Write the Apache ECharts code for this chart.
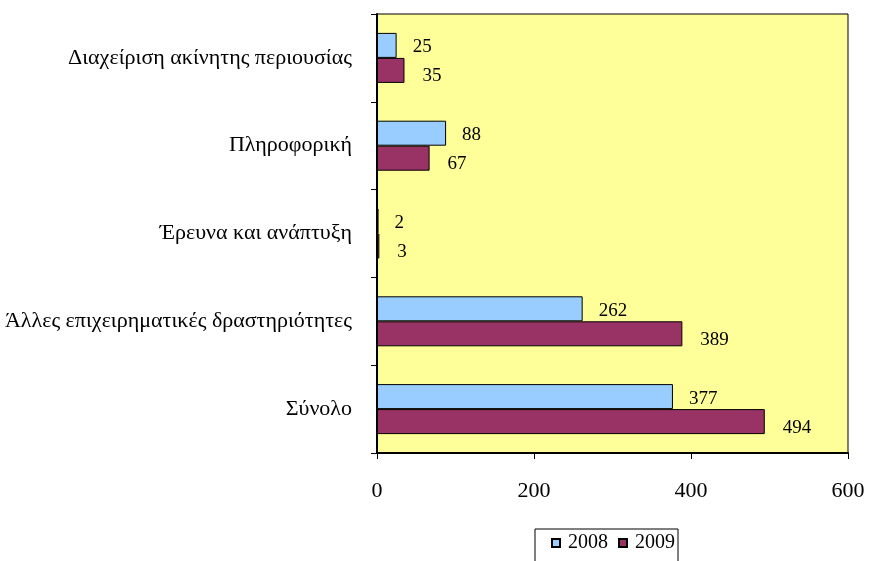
<!DOCTYPE html>
<html>
<head>
<meta charset="utf-8">
<script src="https://cdn.jsdelivr.net/npm/echarts@6/dist/echarts.min.js"></script>
<style>html,body{margin:0;padding:0;background:#fff}#c{width:869px;height:561px}</style>
</head>
<body>
<div id="c"></div>
<script>
// categories top to bottom
const categories = ['Διαχείριση ακίνητης περιουσίας', 'Πληροφορική', 'Έρευνα και ανάπτυξη', 'Άλλες επιχειρηματικές δραστηριότητες', 'Σύνολο'];
const values2008 = [25, 88, 2, 262, 377];
const values2009 = [35, 67, 3, 389, 494];
const xTicks = [0, 200, 400, 600];

const font = 'Liberation Serif, Times New Roman, serif';
const chart = echarts.init(document.getElementById('c'), null, {renderer: 'canvas'});
chart.setOption({
  animation: false,
  grid: {left: 377, top: 14, width: 471, height: 439, show: true, backgroundColor: '#FFFF99', borderColor: '#000', borderWidth: 1, containLabel: false},
  xAxis: {
    type: 'value', min: xTicks[0], max: xTicks[xTicks.length - 1], interval: 200,
    axisLine: {show: true, lineStyle: {color: '#000', width: 2}},
    axisTick: {show: true, length: 6, lineStyle: {color: '#000', width: 1}},
    splitLine: {show: false},
    axisLabel: {color: '#000', fontFamily: font, fontSize: 22, margin: 27}
  },
  yAxis: {
    type: 'category', data: categories, inverse: true,
    axisLine: {show: true, lineStyle: {color: '#000', width: 2}},
    axisTick: {show: true, length: 6, lineStyle: {color: '#000', width: 1}},
    axisLabel: {color: '#000', fontFamily: font, fontSize: 22, margin: 25}
  },
  legend: {
    left: 535, top: 529, itemWidth: 8, itemHeight: 8, itemGap: 10,
    borderColor: '#000', borderWidth: 1, padding: [4, 3, 20, 16],
    textStyle: {color: '#000', fontFamily: font, fontSize: 20, padding: [0, 0, 0, 3]},
    data: [{name: '2008', icon: 'rect'}, {name: '2009', icon: 'rect'}]
  },
  series: [
    {name: '2008', type: 'bar', data: values2008, barWidth: 25, barGap: '0%',
     itemStyle: {color: '#99CCFF', borderColor: '#000', borderWidth: 1},
     label: {show: true, position: 'right', distance: 16, offset: [0, 2], color: '#000', fontFamily: font, fontSize: 19}},
    {name: '2009', type: 'bar', data: values2009, barWidth: 25, barGap: '0%',
     itemStyle: {color: '#993366', borderColor: '#000', borderWidth: 1},
     label: {show: true, position: 'right', distance: 18, offset: [0, 6], color: '#000', fontFamily: font, fontSize: 19}}
  ]
});
</script>
</body>
</html>
